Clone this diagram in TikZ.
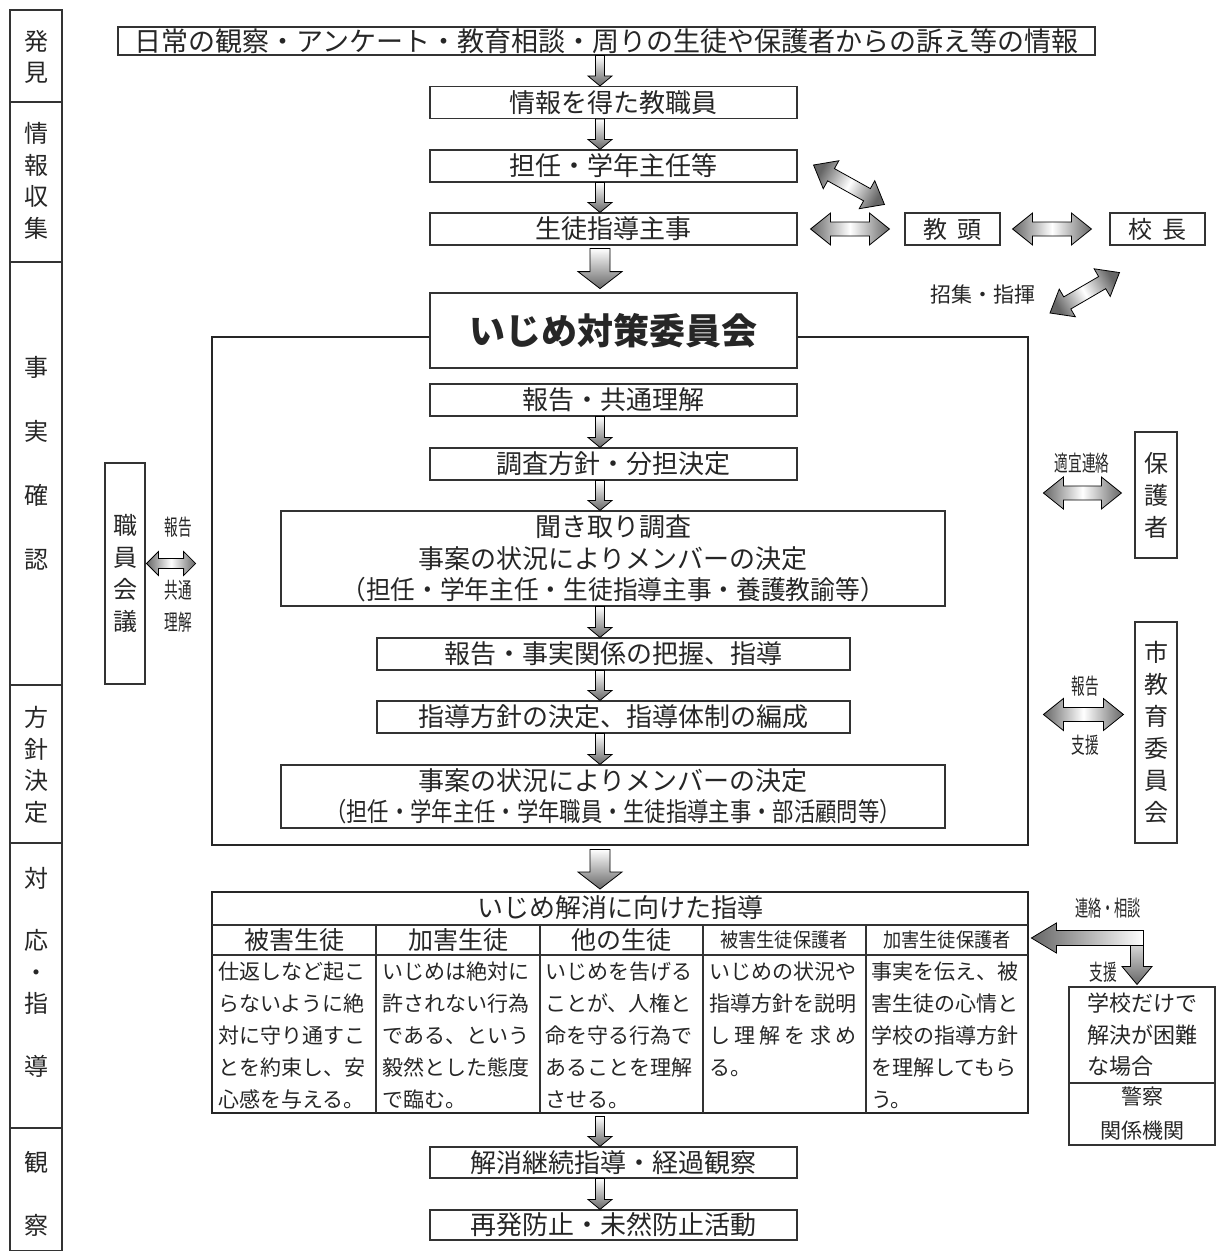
\documentclass[tikz,border=0pt]{standalone}
\usepackage{graphicx}
\usepackage{fontspec}
\newfontfamily\jp{Noto Sans CJK JP}
\usetikzlibrary{calc}
\tikzset{
  sarr/.style n args={3}{to path={
    ($(\tikztotarget)!#3!(\tikztostart)$) coordinate (hd)
    (\tikztostart) -- ($(\tikztostart)!#1!90:(\tikztotarget)$)
    -- ($(hd)!#1!-90:(\tikztostart)$) -- ($(hd)!#2!-90:(\tikztostart)$)
    -- (\tikztotarget)
    -- ($(hd)!#2!90:(\tikztostart)$) -- ($(hd)!#1!90:(\tikztostart)$)
    -- ($(\tikztostart)!#1!-90:(\tikztotarget)$) -- cycle}},
  darr/.style n args={3}{to path={
    ($(\tikztostart)!#3!(\tikztotarget)$) coordinate (hs)
    ($(\tikztotarget)!#3!(\tikztostart)$) coordinate (he)
    (\tikztostart) -- ($(hs)!#2!90:(\tikztotarget)$) -- ($(hs)!#1!90:(\tikztotarget)$)
    -- ($(he)!#1!-90:(\tikztostart)$) -- ($(he)!#2!-90:(\tikztostart)$)
    -- (\tikztotarget)
    -- ($(he)!#2!90:(\tikztostart)$) -- ($(he)!#1!90:(\tikztostart)$)
    -- ($(hs)!#1!-90:(\tikztotarget)$) -- ($(hs)!#2!-90:(\tikztotarget)$) -- cycle}}
}
\tikzstyle{box}=[rectangle, draw=black!80, line width=1.1pt, fill=white, inner sep=0pt, minimum width=367pt, minimum height=32pt, text=black!85, font=\jp\fontsize{26}{31.5}\selectfont]
\tikzstyle{wbox}=[box, minimum width=664pt, align=center]
\tikzstyle{mbox}=[box, minimum width=473pt]
\tikzstyle{title}=[box, line width=2.8pt, minimum height=75pt, font=\jp\bfseries\fontsize{36}{40}\selectfont]
\tikzstyle{frame}=[rectangle, draw=black!85, line width=2.8pt, inner sep=0pt]
\tikzstyle{side}=[rectangle, draw=black!80, line width=1.1pt, fill=white, inner sep=0pt, minimum width=95pt, minimum height=32pt, text=black!85, font=\jp\fontsize{24}{32}\selectfont]
\tikzstyle{vbox}=[side, minimum width=42pt, align=center]
\tikzstyle{stage}=[inner sep=0pt, align=center, text=black!85, font=\jp\fontsize{24}{31.5}\selectfont]
\tikzstyle{col}=[draw=black!80, line width=1.1pt]
\tikzstyle{lbl}=[inner sep=0pt, text=black!85, font=\jp\fontsize{21}{26}\selectfont]
\tikzstyle{cnd}=[inner sep=0pt, text=black!85, font=\jp\fontsize{22}{26}\selectfont]
\tikzstyle{hdr}=[inner sep=0pt, text=black!85, font=\jp\fontsize{25}{30}\selectfont]
\tikzstyle{cell}=[anchor=north west, align=left, inner sep=0pt, text=black!85, font=\jp\fontsize{21}{32}\selectfont]
\tikzstyle{rule}=[draw=black!80, line width=1.1pt]
\tikzstyle{flow}=[sarr={4.5pt}{12pt}{10pt}, draw=black, line width=0.8pt, top color=white, bottom color=black!60]
\tikzstyle{bigflow}=[sarr={10pt}{22pt}{17pt}, draw=black, line width=0.8pt, top color=white, bottom color=black!60]
\tikzstyle{twoway}=[darr={7pt}{16pt}{20pt}, draw=black, line width=0.8pt, left color=black!60, right color=black!60, middle color=white]
\tikzstyle{shortway}=[darr={5pt}{12pt}{12pt}, draw=black, line width=0.8pt, left color=black!60, right color=black!60, middle color=white]
\tikzstyle{leftflow}=[sarr={7.5pt}{15pt}{25pt}, draw=black, line width=0.8pt, left color=black!60, right color=white]
\tikzstyle{dropflow}=[sarr={6.5pt}{15pt}{18pt}, draw=black, line width=0.8pt, top color=white, bottom color=black!60]
\begin{document}
\begin{tikzpicture}[x=1pt, y=-1pt]
	\useasboundingbox (0,0) rectangle (1216,1251);
	\coordinate (spine) at (600,0);

	%The stages
	\draw[col] (10,10) rectangle (62,1251);
	\draw[col] (10,102) -- (62,102);
	\draw[col] (10,262) -- (62,262);
	\draw[col] (10,685) -- (62,685);
	\draw[col] (10,843) -- (62,843);
	\draw[col] (10,1128) -- (62,1128);
	\draw (36,57) node[stage] (s1) {発\\見};
	\draw (36,181) node[stage] (s2) {情\\報\\収\\集};
	\draw (36,463) node[stage, font=\jp\fontsize{24}{64}\selectfont] (s3) {事\\実\\確\\認};
	\draw (36,765) node[stage] (s4) {方\\針\\決\\定};
	\draw (36,972) node[stage] (s5) {対\\[31pt]応\\・\\指\\[31pt]導};
	\draw (36,1194) node[stage, font=\jp\fontsize{24}{63}\selectfont] (s6) {観\\察};

	%The reports
	\draw (606.5,41) node[box, minimum width=977pt, minimum height=28pt, font=\jp\fontsize{27}{30}\selectfont] (top) {日常の観察・アンケート・教育相談・周りの生徒や保護者からの訴え等の情報};
	\draw (613.5,102.5) node[box] (info) {情報を得た教職員};
	\draw (613.5,166) node[box] (tannin) {担任・学年主任等};
	\draw (613.5,229) node[box] (shido) {生徒指導主事};

	\draw[flow] (spine |- top.south) to (spine |- info.north);
	\draw[flow] (spine |- info.south) to (spine |- tannin.north);
	\draw[flow] (spine |- tannin.south) to (spine |- shido.north);

	%The managers
	\draw (952.5,229) node[side] (kyoto) {教\hspace{10pt}頭};
	\draw (1157.5,229) node[side] (kocho) {校\hspace{10pt}長};
	\coordinate (shoshu) at (1050,313);
	\draw (983,295) node[lbl] (l-shoshu) {招集・指揮};

	\draw[twoway] ([xshift=13pt]shido.east) to ([xshift=-15pt]kyoto.west);
	\draw[twoway] ([xshift=12pt]kyoto.east) to ([xshift=-18pt]kocho.west);
	\draw[twoway, shading angle=61] ([shift={(16,-1)}]tannin.east) to ([shift={(-20,-8)}]kyoto.north west);
	\draw[twoway, shading angle=120] (shoshu) to ([shift={(10,27)}]kocho.south west);

	%The committee
	\draw (620,591) node[frame, minimum width=816pt, minimum height=508pt] (frm) {};
	\draw (613.5,330.5) node[title] (iinkai) {いじめ対策委員会};
	\draw[bigflow] ($(spine |- shido.south)+(0,3)$) to ($(spine |- iinkai.north)+(0,-3)$);

	\draw (613.5,400) node[box] (r1) {報告・共通理解};
	\draw (613.5,464) node[box] (r2) {調査方針・分担決定};
	\draw (613,558.5) node[wbox, minimum height=95pt] (r3) {聞き取り調査\\事案の状況によりメンバーの決定\\\scalebox{0.95}[1]{（担任・学年主任・生徒指導主事・養護教諭等）}};
	\draw (613.5,654) node[mbox] (r4) {報告・事実関係の把握、指導};
	\draw (613.5,717) node[mbox] (r5) {指導方針の決定、指導体制の編成};
	\draw (613,796.5) node[wbox, minimum height=63pt, font=\jp\fontsize{26}{31}\selectfont] (r6) {事案の状況によりメンバーの決定\\\scalebox{0.82}[1]{（担任・学年主任・学年職員・生徒指導主事・部活顧問等）}};

	\draw[flow] (spine |- r1.south) to (spine |- r2.north);
	\draw[flow] (spine |- r2.south) to (spine |- r3.north);
	\draw[flow] (spine |- r3.south) to (spine |- r4.north);
	\draw[flow] (spine |- r4.south) to (spine |- r5.north);
	\draw[flow] (spine |- r5.south) to (spine |- r6.north);

	%The outside parties
	\draw (1156,495) node[vbox, minimum height=126pt] (hogosha) {保\\護\\者};
	\draw (1156,732.5) node[vbox, minimum height=221pt] (shikyoi) {市\\教\\育\\委\\員\\会};
	\draw (125,573.5) node[vbox, minimum width=40pt, minimum height=221pt] (shokuin) {職\\員\\会\\議};

	\draw (1082,463) node[cnd] (l-hogo) {\scalebox{0.62}[1]{適宜連絡}};
	\draw (1085,686) node[cnd] (l-shi1) {\scalebox{0.62}[1]{報告}};
	\draw (1085,745) node[cnd] (l-shi2) {\scalebox{0.62}[1]{支援}};
	\draw (178,527) node[cnd] (l-sho1) {\scalebox{0.62}[1]{報告}};
	\draw (178,590) node[cnd] (l-sho2) {\scalebox{0.62}[1]{共通}};
	\draw (178,622) node[cnd] (l-sho3) {\scalebox{0.62}[1]{理解}};

	\draw[twoway] ($(frm.east |- hogosha.west)+(14,-2)$) to ($(hogosha.west)+(-13,-2)$);
	\draw[twoway] ($(frm.east |- shikyoi.west)+(14,-18)$) to ($(shikyoi.west)+(-11,-18)$);
	\draw[shortway] ($(shokuin.east)+(1,-10)$) to ($(frm.west |- shokuin.east)+(-15,-10)$);

	%The guidance table
	\draw[bigflow] ($(spine |- frm.south)+(0,3)$) to ($(spine |- 0,892)+(0,-3)$);
	\draw (620,1002.5) node[frame, minimum width=816pt, minimum height=221pt] (tbl) {};
	\draw[rule] (212,925) -- (1028,925);
	\draw[rule] (212,955) -- (1028,955);
	\draw[rule] (376,925) -- (376,1113);
	\draw[rule] (540,925) -- (540,1113);
	\draw[rule] (703,925) -- (703,1113);
	\draw[rule] (866,925) -- (866,1113);

	\draw (620,908) node[hdr, font=\jp\fontsize{26}{30}\selectfont] (h0) {いじめ解消に向けた指導};
	\draw (294,940) node[hdr] (h1) {被害生徒};
	\draw (458,940) node[hdr] (h2) {加害生徒};
	\draw (621,940) node[hdr] (h3) {他の生徒};
	\draw (784,940) node[hdr, font=\jp\fontsize{20}{24}\selectfont] (h4) {\scalebox{0.91}[1]{被害生徒保護者}};
	\draw (947,940) node[hdr, font=\jp\fontsize{20}{24}\selectfont] (h5) {\scalebox{0.91}[1]{加害生徒保護者}};

	\draw (218,962) node[cell] (c1) {仕返しなど起こ\\らないように絶\\対に守り通すこ\\とを約束し、安\\心感を与える。};
	\draw (382,962) node[cell] (c2) {いじめは絶対に\\許されない行為\\である、という\\毅然とした態度\\で臨む。};
	\draw (545,962) node[cell] (c3) {いじめを告げる\\ことが、人権と\\命を守る行為で\\あることを理解\\させる。};
	\draw (709,962) node[cell] (c4) {いじめの状況や\\指導方針を説明\\\makebox[147pt][s]{し\hfill 理\hfill 解\hfill を\hfill 求\hfill め}\\る。};
	\draw (871,962) node[cell] (c5) {事実を伝え、被\\害生徒の心情と\\学校の指導方針\\を理解してもら\\う。};

	%The police
	\draw (1142,1035) node[side, minimum width=146pt, minimum height=96pt, align=left, font=\jp\fontsize{22}{31.5}\selectfont] (kb1) {学校だけで\\解決が困難\\な場合};
	\draw (1142,1114) node[side, minimum width=146pt, minimum height=62pt, align=center, font=\jp\fontsize{21}{34}\selectfont] (kb2) {警察\\関係機関};
	\coordinate (elb) at (1143.5,938);
	\coordinate (elt) at (1137,930.5);
	\draw (1108,908) node[cnd] (l-kei1) {\scalebox{0.6}[1]{連絡・相談}};
	\draw (1103,972) node[cnd] (l-kei2) {\scalebox{0.62}[1]{支援}};
	\draw[dropflow] (elt) to ($(elt |- kb1.north)+(0,-2)$);
	\draw[leftflow] (elb) to ($(tbl.east |- elb)+(2,0)$);

	%The follow-up
	\draw (613.5,1162.5) node[box, minimum height=31pt] (k1) {解消継続指導・経過観察};
	\draw (613.5,1225) node[box, minimum height=30pt] (k2) {再発防止・未然防止活動};
	\draw[flow] ($(spine |- tbl.south)+(0,2)$) to (spine |- k1.north);
	\draw[flow] (spine |- k1.south) to (spine |- k2.north);
\end{tikzpicture}
\end{document}
